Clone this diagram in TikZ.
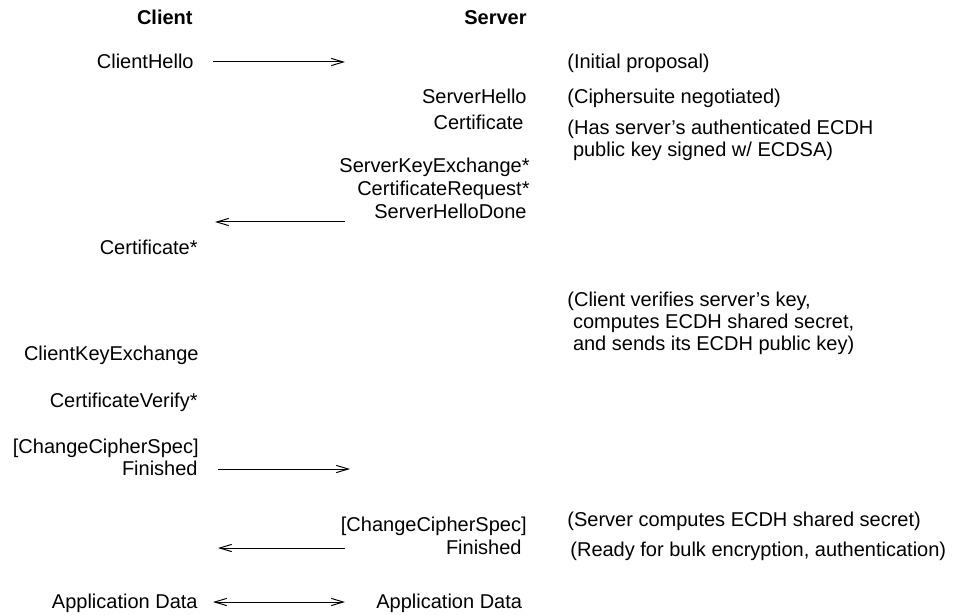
\documentclass[tikz,border=0pt]{standalone}
\usepackage{fontspec}
\setmainfont{Liberation Sans}
\usetikzlibrary{arrows.meta}

\begin{document}
\begin{tikzpicture}[
  x=0.5pt,
  y=-0.5pt,
  font=\fontsize{10}{11}\selectfont,
  >={Straight Barb[length=6pt,width=3.6pt]},
  lbl/.style={
    inner sep=0pt,
    text height=7.2pt,
    text depth=0pt
  },
  title/.style={
    lbl,
    anchor=east,
    font=\fontsize{10}{11}\selectfont\bfseries
  },
  clientmsg/.style={lbl,anchor=east},
  servermsg/.style={lbl,anchor=east},
  note/.style={lbl,anchor=north west,align=left},
  msg/.style={->,line width=0.5pt},
  bothmsg/.style={<->,line width=0.5pt}
]
  \useasboundingbox (0,0) rectangle (960,615);

  % Column headings.
  \node[title] (clienttitle) at (193,17) {Client};
  \node[title] (servertitle) at (527,17) {Server};

  % Client side messages.
  \node[clientmsg] (clienthello) at (194,61) {ClientHello};
  \node[clientmsg] (clientcert) at (198,247) {Certificate*};
  \node[clientmsg] (clientkex) at (199,353) {ClientKeyExchange};
  \node[clientmsg] (certverify) at (198,400) {CertificateVerify*};
  \node[clientmsg] (clientccs) at (199,446) {[ChangeCipherSpec]};
  \node[clientmsg] (clientfin) at (198,468) {Finished};
  \node[clientmsg] (clientdata) at (198,601) {Application Data};

  % Server side messages.
  \node[servermsg] (serverhello) at (527,96) {ServerHello};
  \node[servermsg] (servercert) at (524,122) {Certificate};
  \node[servermsg] (serverkex) at (530,165) {ServerKeyExchange*};
  \node[servermsg] (certrequest) at (530,188) {CertificateRequest*};
  \node[servermsg] (hellodone) at (527,211) {ServerHelloDone};
  \node[servermsg] (serverccs) at (527,524) {[ChangeCipherSpec]};
  \node[servermsg] (serverfin) at (522,547) {Finished};
  \node[lbl,anchor=west] (serverdata) at (376,601) {Application Data};

  % Comments on the right (north is the cap top of the last line).
  \node[lbl,anchor=west] (proposal) at (567,61) {(Initial proposal)};
  \node[lbl,anchor=west] (negotiated) at (567,96) {(Ciphersuite negotiated)};
  \node[note] (signedkey) at (567,142) {(Has server’s authenticated ECDH\\
    \hspace{0.28em}public key signed w/ ECDSA)};
  \node[note] (verifies) at (567,336) {(Client verifies server’s key,\\
    \hspace{0.28em}computes ECDH shared secret,\\
    \hspace{0.28em}and sends its ECDH public key)};
  \node[lbl,anchor=west] (computes) at (567,519) {(Server computes ECDH shared secret)};
  \node[lbl,anchor=west] (ready) at (570,549) {(Ready for bulk encryption, authentication)};

  % Arrow ends between the two columns.
  \coordinate (helloL) at (213,62);
  \coordinate (helloR) at (345,62);
  \coordinate (doneL) at (215,222);
  \coordinate (doneR) at (345,222);
  \coordinate (cfinL) at (218,469);
  \coordinate (cfinR) at (350,469);
  \coordinate (sfinL) at (218,548);
  \coordinate (sfinR) at (345,548);
  \coordinate (dataL) at (213,602);
  \coordinate (dataR) at (345,602);

  \draw[msg] (helloL) -- (helloR);
  \draw[msg] (doneR) -- (doneL);
  \draw[msg] (cfinL) -- (cfinR);
  \draw[msg] (sfinR) -- (sfinL);
  \draw[bothmsg] (dataL) -- (dataR);
\end{tikzpicture}
\end{document}
